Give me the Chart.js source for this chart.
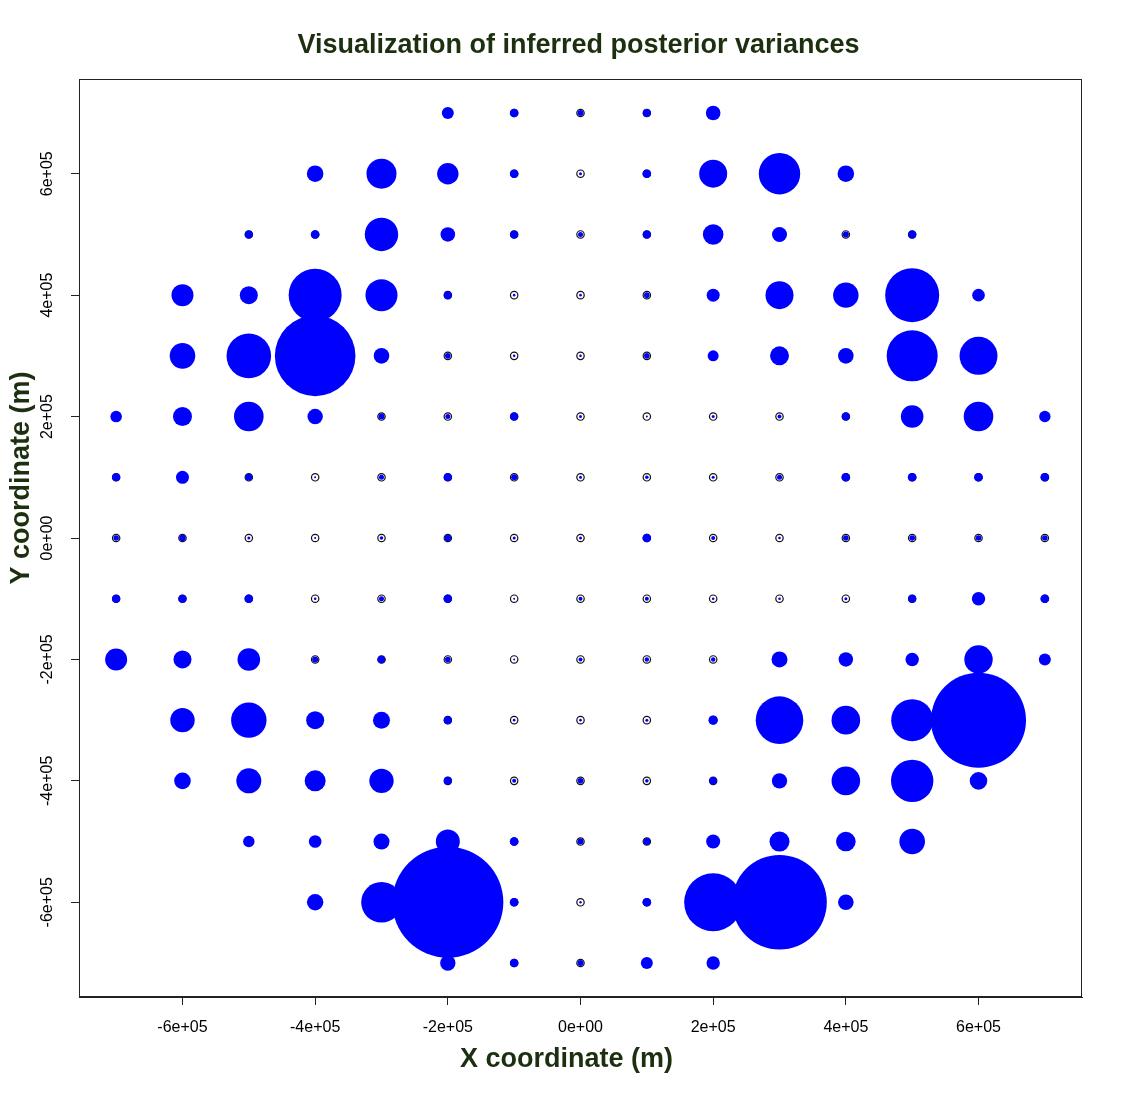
<!DOCTYPE html>
<html>
<head>
<meta charset="utf-8">
<title>Visualization of inferred posterior variances</title>
<script src="https://cdn.jsdelivr.net/npm/chart.js@4.4.1/dist/chart.umd.min.js"></script>
<style>
  html, body { margin: 0; padding: 0; background: #ffffff; }
  #wrap { width: 1123px; height: 1096px; }
</style>
</head>
<body>
<div id="wrap"><canvas id="varChart" width="1123" height="1096"></canvas></div>
<script>
// grid rows, top to bottom (metres)
const rowY = [700000, 600000, 500000, 400000, 300000, 200000, 100000, 0,
              -100000, -200000, -300000, -400000, -500000, -600000, -700000];
const rowStartX = [-200000, -400000, -500000, -600000, -600000, -700000, -700000, -700000,
                   -700000, -700000, -600000, -600000, -500000, -400000, -200000];
const gridStep = 100000;

// symbol radius (px) per grid point, left to right
const size7  = [6, 4.3, 3, 4, 7.3];
const size6  = [8.3, 15, 10.7, 4.3, 1.5, 4.3, 14, 20.7, 8.3];
const size5  = [4, 4.3, 16.7, 7.3, 4, 2.5, 4, 10.3, 7.5, 3, 4];
const size4  = [11, 9, 26.5, 16, 4, 1.3, 1.3, 2.8, 6.5, 14, 12.7, 27, 6.3];
const size3  = [12.8, 22.3, 40.3, 7.8, 2.8, 1.3, 1.3, 2.8, 5.5, 9.5, 7.8, 25.5, 19];
const size2  = [5.8, 9.5, 14.8, 7.7, 3, 2.5, 4, 1.5, 1, 1.5, 2, 4, 11.3, 14.8, 5.7];
const size1  = [4, 6.5, 3.5, 1, 2.5, 4, 3, 1.5, 1.8, 1.5, 2.5, 4.3, 4.3, 4.3, 4.3];
const size0  = [2.8, 3.2, 1.5, 1, 1.8, 3.3, 1.5, 1.5, 4.3, 2, 1.3, 2.8, 2.8, 2.8, 2.8];
const sizeM1 = [4, 4, 4.3, 1.3, 2.5, 4.2, 1, 2, 2, 1.3, 1.3, 1.5, 4, 6.7, 4.3];
const sizeM2 = [11, 9, 11.3, 3, 3.8, 2.8, 1, 2, 2.2, 2.2, 8, 7.2, 6.7, 14.2, 6];
const sizeM3 = [12.2, 17.7, 9, 8.5, 4, 1.3, 1.3, 1.5, 4.7, 23.8, 14.3, 21, 47.5];
const sizeM4 = [8.3, 12.5, 10.5, 12.2, 4, 2, 2.8, 1.8, 3.8, 7.7, 14.3, 21.2, 8.8];
const sizeM5 = [5.7, 6.3, 8, 12, 4.3, 3, 3.5, 7, 10, 9.8, 12.8];
const sizeM6 = [8.2, 20.3, 55.5, 4.3, 1.2, 4.3, 29, 47.3, 7.8];
const sizeM7 = [7.7, 4.3, 3, 6, 6.7];
const rowSizes = [size7, size6, size5, size4, size3, size2, size1, size0,
                  sizeM1, sizeM2, sizeM3, sizeM4, sizeM5, sizeM6, sizeM7];

const tickVals = [-600000, -400000, -200000, 0, 200000, 400000, 600000];
const tickLabels = ['-6e+05', '-4e+05', '-2e+05', '0e+00', '2e+05', '4e+05', '6e+05'];

const mainTitle = 'Visualization of inferred posterior variances';
const xTitle = 'X coordinate (m)';
const yTitle = 'Y coordinate (m)';

const labelGreen = '#1c3010';
const fontFam = '"Liberation Sans", Arial, Helvetica, sans-serif';

// build point lists
const blueDots = [];
const gridRings = [];
rowY.forEach((y, i) => {
    rowSizes[i].forEach((r, j) => {
        const x = rowStartX[i] + j * gridStep;
        blueDots.push({ x: x, y: y, r: r });
        gridRings.push({ x: x, y: y, r: 3.7 });
    });
});

// box round the plot, titles, rotated y tick labels
const frameAndLabels = {
    id: 'frameAndLabels',
    afterDraw(chart) {
        const ctx = chart.ctx;
        const a = chart.chartArea;
        const yScale = chart.scales.y;
        const midX = (a.left + a.right) / 2;
        const midY = (a.top + a.bottom) / 2;
        ctx.save();
        ctx.strokeStyle = '#222';
        ctx.lineWidth = 1;
        ctx.strokeRect(a.left + 0.5, a.top + 0.5, a.right - a.left - 1, a.bottom - a.top - 1);

        ctx.fillStyle = '#000';
        ctx.font = '16px ' + fontFam;
        ctx.textAlign = 'center';
        ctx.textBaseline = 'middle';
        tickVals.forEach((v, i) => {
            ctx.save();
            ctx.translate(a.left - 31, yScale.getPixelForValue(v));
            ctx.rotate(-Math.PI / 2);
            ctx.fillText(tickLabels[i], 0, 0);
            ctx.restore();
        });

        ctx.fillStyle = labelGreen;
        ctx.font = 'bold 27px ' + fontFam;
        ctx.fillText(mainTitle, midX - 2, a.top - 33);
        ctx.fillText(xTitle, midX - 14, a.bottom + 63);
        ctx.save();
        ctx.translate(a.left - 57, midY - 60);
        ctx.rotate(-Math.PI / 2);
        ctx.fillText(yTitle, 0, 0);
        ctx.restore();
        ctx.restore();
    }
};

Chart.defaults.font.family = fontFam;

const ctx = document.getElementById('varChart').getContext('2d');
const varChart = new Chart(ctx, {
    type: 'bubble',
    data: {
        datasets: [{
            label: 'Posterior variance',
            data: blueDots,
            backgroundColor: '#0000ff',
            borderColor: '#0000ff',
            borderWidth: 0,
            hoverRadius: 0
        }, {
            label: 'Grid',
            data: gridRings,
            backgroundColor: 'rgba(0,0,0,0)',
            borderColor: '#111111',
            borderWidth: 1.2,
            hoverRadius: 0
        }]
    },
    options: {
        responsive: false,
        devicePixelRatio: 1,
        animation: false,
        layout: { autoPadding: false, padding: { left: 0, right: 41, top: 79, bottom: 0 } },
        plugins: {
            legend: { display: false },
            tooltip: { enabled: false },
            title: { display: false }
        },
        scales: {
            x: {
                type: 'linear',
                min: -756000,
                max: 756000,
                afterBuildTicks: s => { s.ticks = tickVals.map(v => ({ value: v })); },
                afterFit: s => { s.height = 99; s.paddingLeft = 0; s.paddingRight = 0; },
                grid: { drawOnChartArea: false, drawTicks: true, tickLength: 8, color: '#222' },
                border: { display: true, color: '#222' },
                ticks: {
                    color: '#000',
                    font: { size: 16 },
                    padding: 13,
                    maxRotation: 0,
                    callback: v => tickLabels[tickVals.indexOf(v)]
                }
            },
            y: {
                type: 'linear',
                min: -756000,
                max: 756000,
                afterBuildTicks: s => { s.ticks = tickVals.map(v => ({ value: v })); },
                afterFit: s => { s.width = 79; s.paddingTop = 0; s.paddingBottom = 0; },
                grid: { drawOnChartArea: false, drawTicks: true, tickLength: 8, color: '#222' },
                border: { display: true, color: '#222' },
                ticks: { display: false }
            }
        }
    },
    plugins: [frameAndLabels]
});
</script>
</body>
</html>
